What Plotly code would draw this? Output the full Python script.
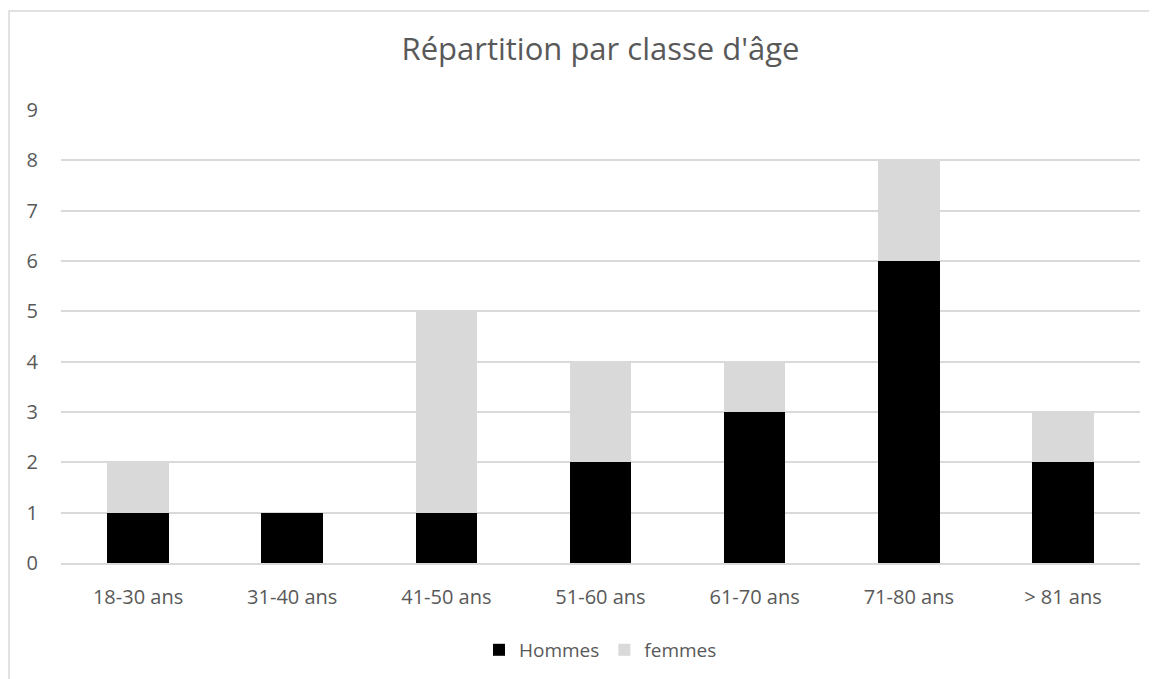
import plotly.graph_objects as go

categories = ["18-30 ans", "31-40 ans", "41-50 ans", "51-60 ans", "61-70 ans", "71-80 ans", "> 81 ans"]
hommes = [1, 1, 1, 2, 3, 6, 2]
femmes = [1, 0, 4, 2, 1, 2, 1]
y_ticks = list(range(0, 10))

FONT = "Open Sans"
GREY = "#595959"

fig = go.Figure()
fig.add_trace(go.Bar(x=categories, y=hommes, name="Hommes", marker=dict(color="#000000", line=dict(width=0))))
fig.add_trace(go.Bar(x=categories, y=femmes, name="femmes", marker=dict(color="#d9d9d9", line=dict(width=0))))

fig.update_layout(
    width=1157, height=679,
    barmode="stack", bargap=0.6,
    paper_bgcolor="white", plot_bgcolor="white",
    margin=dict(l=53, r=25, t=102, b=124),
    title=dict(text="Répartition par classe d'âge", x=0.5, xref="paper", y=0.9396, yanchor="middle",
               font=dict(family=FONT, size=31, color=GREY)),
    font=dict(family=FONT, color=GREY, size=20),
    xaxis=dict(showgrid=False, showline=True, linecolor="#d9d9d9", linewidth=2, ticks="",
               tickfont=dict(size=20, color=GREY), ticklabelstandoff=15),
    yaxis=dict(range=[0, 9], tickvals=y_ticks, showgrid=True, gridcolor="#d9d9d9", gridwidth=1.5,
               zeroline=False, showline=False, ticks="", tickfont=dict(size=20, color=GREY),
               ticklabelstandoff=22),
    legend=dict(orientation="h", x=0.5, xanchor="center", y=-0.15, yanchor="top",
                font=dict(size=19, color=GREY), itemwidth=30, traceorder="normal"),
    shapes=[dict(type="rect", xref="paper", yref="paper", x0=-0.0482, x1=1.2, y0=-0.6, y1=1.2185,
                 line=dict(color="#d9d9d9", width=1.5), fillcolor="rgba(0,0,0,0)", layer="below")],
)

fig.write_html("out.html")
